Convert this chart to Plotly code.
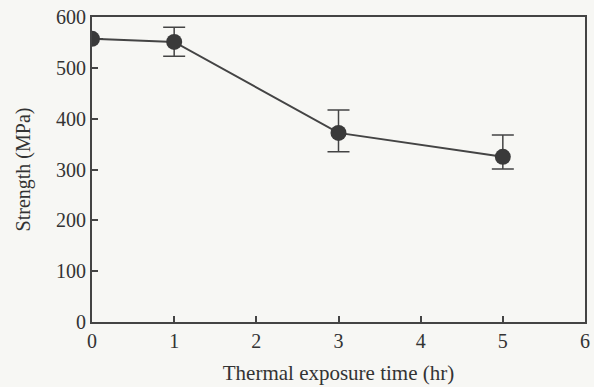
import plotly.graph_objects as go

time_hr = [0, 1, 3, 5]
strength = [557, 551, 372, 325]
err_plus = [0, 29, 45, 43]
err_minus = [0, 28, 37, 24]

x_ticks = [0, 1, 2, 3, 4, 5, 6]
y_ticks = [0, 100, 200, 300, 400, 500, 600]

ink = "#444444"
fam = "Liberation Serif, Times New Roman, serif"
tick_font = dict(family=fam, size=20, color="#333333")
title_font = dict(family=fam, size=21, color="#333333")

fig = go.Figure()
fig.add_trace(go.Scatter(
    x=time_hr, y=strength, mode="lines+markers",
    line=dict(color=ink, width=2),
    marker=dict(size=16, color="#3a3a3a"),
    error_y=dict(type="data", symmetric=False, array=err_plus, arrayminus=err_minus,
                 color=ink, thickness=1.5, width=11),
    showlegend=False,
))

fig.update_layout(
    width=594, height=387,
    margin=dict(l=92, r=9, t=17, b=65),
    paper_bgcolor="#f7f7f4", plot_bgcolor="#f7f7f4",
    font=tick_font,
    xaxis=dict(range=[0, 6], tickvals=x_ticks, ticks="inside", ticklen=6, tickwidth=1.5,
               tickcolor=ink, showline=True, linecolor=ink, linewidth=2, mirror=True,
               showgrid=False, zeroline=False, tickfont=tick_font, automargin=False,
               title=dict(text="Thermal exposure time (hr)", standoff=14, font=title_font)),
    yaxis=dict(range=[0, 600], tickvals=y_ticks, ticks="inside", ticklen=6, tickwidth=1.5,
               tickcolor=ink, showline=True, linecolor=ink, linewidth=2, mirror=True,
               showgrid=False, zeroline=False, tickfont=tick_font, automargin=False,
               title=dict(text="Strength (MPa)", standoff=20, font=dict(family=fam, size=20, color="#333333"))),
)

fig.write_html("out.html")
